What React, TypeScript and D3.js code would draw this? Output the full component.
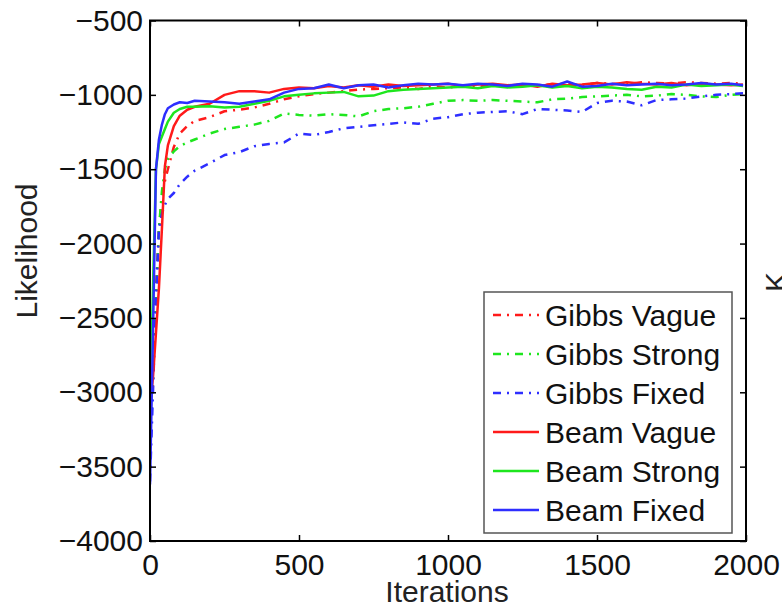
import React, { useEffect, useRef } from 'react';
import * as d3 from 'd3';

// iteration samples shared by all six runs
const iterations = [0, 10, 20, 30, 40, 50, 60, 80, 100, 125, 150, 200, 250, 300, 350, 400, 450, 500, 550, 600, 650, 700, 750, 800, 850, 900, 950, 1000, 1050, 1100, 1150, 1200, 1250, 1300, 1350, 1400, 1450, 1500, 1550, 1600, 1650, 1700, 1750, 1800, 1850, 1900, 1950, 1990];

const gibbsVague = [-3300, -2800, -2300, -1900, -1700, -1580, -1500, -1350, -1260, -1210, -1175, -1150, -1110, -1100, -1085, -1060, -1030, -1010, -995, -985, -975, -965, -960, -955, -950, -960, -945, -950, -940, -945, -935, -940, -930, -935, -930, -925, -935, -920, -925, -930, -915, -920, -925, -915, -920, -925, -920, -925];
const gibbsStrong = [-3300, -2900, -2400, -1900, -1650, -1500, -1430, -1380, -1345, -1320, -1300, -1260, -1230, -1215, -1200, -1175, -1125, -1135, -1140, -1130, -1135, -1145, -1110, -1095, -1090, -1080, -1060, -1040, -1035, -1040, -1035, -1040, -1045, -1050, -1030, -1025, -1015, -1010, -1005, -1000, -1010, -1005, -995, -1000, -1010, -1015, -1000, -995];
const gibbsFixed = [-3600, -3000, -2400, -1900, -1800, -1740, -1700, -1660, -1600, -1550, -1510, -1460, -1405, -1385, -1345, -1330, -1320, -1260, -1270, -1250, -1225, -1215, -1205, -1195, -1185, -1195, -1160, -1150, -1130, -1120, -1115, -1110, -1130, -1095, -1100, -1105, -1115, -1055, -1040, -1045, -1070, -1035, -1030, -1025, -1010, -1000, -995, -990];
const beamVague = [-3100, -2900, -2600, -2300, -1900, -1480, -1340, -1210, -1140, -1100, -1080, -1060, -1000, -975, -975, -985, -960, -950, -955, -940, -950, -935, -945, -930, -940, -935, -930, -925, -940, -930, -925, -935, -930, -945, -925, -935, -930, -920, -930, -915, -925, -930, -920, -935, -925, -930, -935, -930];
const beamStrong = [-3250, -2300, -1500, -1330, -1280, -1230, -1180, -1120, -1095, -1080, -1080, -1077, -1085, -1080, -1060, -1040, -1010, -1000, -990, -985, -980, -1010, -1005, -975, -965, -960, -955, -950, -945, -955, -940, -950, -945, -935, -950, -940, -955, -945, -950, -960, -965, -945, -950, -930, -940, -935, -930, -940];
const beamFixed = [-3620, -2600, -1500, -1300, -1200, -1130, -1090, -1065, -1050, -1055, -1040, -1045, -1050, -1060, -1045, -1030, -985, -960, -955, -930, -955, -935, -930, -950, -935, -925, -930, -925, -935, -925, -930, -940, -925, -930, -945, -910, -945, -940, -925, -935, -930, -925, -935, -930, -920, -930, -925, -935];

const seriesNames = ['Gibbs Vague', 'Gibbs Strong', 'Gibbs Fixed', 'Beam Vague', 'Beam Strong', 'Beam Fixed'];
const xTicks = [0, 500, 1000, 1500, 2000];
const yTicks = [-500, -1000, -1500, -2000, -2500, -3000, -3500, -4000];

const RED = '#ff1a1a';
const GREEN = '#1ee61e';
const BLUE = '#2e2eff';
const DASHDOT = '8,6,2,6';

const App = () => {
  const svgRef = useRef<SVGSVGElement>(null);

  useEffect(() => {
    const svg = d3.select(svgRef.current);
    svg.selectAll('*').remove();

    const left = 150, right = 746, top = 20.5, bottom = 541;
    const font = 'Liberation Sans, Arial, Helvetica, sans-serif';
    const fmt = d3.format('d');

    const x = d3.scaleLinear().domain([0, 2000]).range([left, right]);
    const y = d3.scaleLinear().domain([-4000, -500]).range([bottom, top]);

    const series = [
      { name: seriesNames[0], values: gibbsVague, color: RED, dash: DASHDOT },
      { name: seriesNames[1], values: gibbsStrong, color: GREEN, dash: DASHDOT },
      { name: seriesNames[2], values: gibbsFixed, color: BLUE, dash: DASHDOT },
      { name: seriesNames[3], values: beamVague, color: RED, dash: null },
      { name: seriesNames[4], values: beamStrong, color: GREEN, dash: null },
      { name: seriesNames[5], values: beamFixed, color: BLUE, dash: null },
    ];

    svg.append('rect').attr('width', 782).attr('height', 606).attr('fill', '#fff');

    svg.append('defs').append('clipPath').attr('id', 'plot-clip')
      .append('rect')
      .attr('x', left).attr('y', top)
      .attr('width', right - left).attr('height', bottom - top);

    const line = d3.line<number>()
      .x((_, i) => x(iterations[i]))
      .y(d => y(d));

    const plot = svg.append('g').attr('clip-path', 'url(#plot-clip)');
    series.forEach(s => {
      plot.append('path')
        .datum(s.values)
        .attr('d', line)
        .attr('fill', 'none')
        .attr('stroke', s.color)
        .attr('stroke-width', 2.5)
        .attr('stroke-linejoin', 'round')
        .attr('stroke-dasharray', s.dash);
    });

    // Axes, ticks pointing inward like MATLAB
    const styleAxis = (g) => {
      g.select('.domain').remove();
      g.selectAll('.tick line').attr('stroke', '#000').attr('stroke-width', 1.5);
      g.selectAll('.tick text')
        .attr('fill', '#111')
        .style('font-family', font)
        .style('font-size', '30px');
    };

    svg.append('g')
      .attr('transform', `translate(${left},0)`)
      .call(d3.axisLeft(y).tickValues(yTicks).tickFormat(fmt).tickSizeInner(-6).tickSizeOuter(0).tickPadding(7))
      .call(styleAxis);

    svg.append('g')
      .attr('transform', `translate(${right},0)`)
      .call(d3.axisRight(y).tickValues(yTicks).tickSizeInner(-6).tickSizeOuter(0).tickFormat(() => ''))
      .call(styleAxis);

    svg.append('g')
      .attr('transform', `translate(0,${bottom})`)
      .call(d3.axisBottom(x).tickValues(xTicks).tickFormat(fmt).tickSizeInner(-6).tickSizeOuter(0).tickPadding(13))
      .call(styleAxis);

    svg.append('g')
      .attr('transform', `translate(0,${top})`)
      .call(d3.axisTop(x).tickValues(xTicks).tickSizeInner(-6).tickSizeOuter(0).tickFormat(() => ''))
      .call(styleAxis);

    svg.append('rect')
      .attr('x', left).attr('y', top)
      .attr('width', right - left).attr('height', bottom - top)
      .attr('fill', 'none')
      .attr('stroke', '#000')
      .attr('stroke-width', 2);

    // Axis labels
    svg.append('text')
      .attr('x', (left + right) / 2 - 1)
      .attr('y', 602)
      .attr('text-anchor', 'middle')
      .style('font-family', font)
      .style('font-size', '30px')
      .attr('fill', '#222')
      .text('Iterations');

    svg.append('text')
      .attr('transform', `translate(37,${251}) rotate(-90)`)
      .attr('text-anchor', 'middle')
      .style('font-family', font)
      .style('font-size', '30px')
      .attr('fill', '#222')
      .text('Likelihood');

    // cut-off label of the neighbouring panel
    svg.append('text')
      .attr('transform', 'translate(786,292) rotate(-90)')
      .style('font-family', font)
      .style('font-size', '30px')
      .attr('fill', '#222')
      .text('K');

    // Legend
    const lg = svg.append('g');
    lg.append('rect')
      .attr('x', 484).attr('y', 292)
      .attr('width', 248).attr('height', 241)
      .attr('fill', '#fff')
      .attr('stroke', '#555')
      .attr('stroke-width', 1.5);

    series.forEach((s, i) => {
      const cy = 315 + i * 39;
      lg.append('line')
        .attr('x1', 493).attr('x2', 539)
        .attr('y1', cy).attr('y2', cy)
        .attr('stroke', s.color)
        .attr('stroke-width', 2.5)
        .attr('stroke-dasharray', s.dash);
      lg.append('text')
        .attr('x', 545)
        .attr('y', cy)
        .attr('dy', '0.36em')
        .style('font-family', font)
        .style('font-size', '30px')
        .attr('fill', '#111')
        .text(s.name);
    });
  }, []);

  return (
    <svg
      ref={svgRef}
      width={782}
      height={606}
      style={{ position: 'absolute', left: 0, top: 0 }}
    />
  );
};

export default App;
